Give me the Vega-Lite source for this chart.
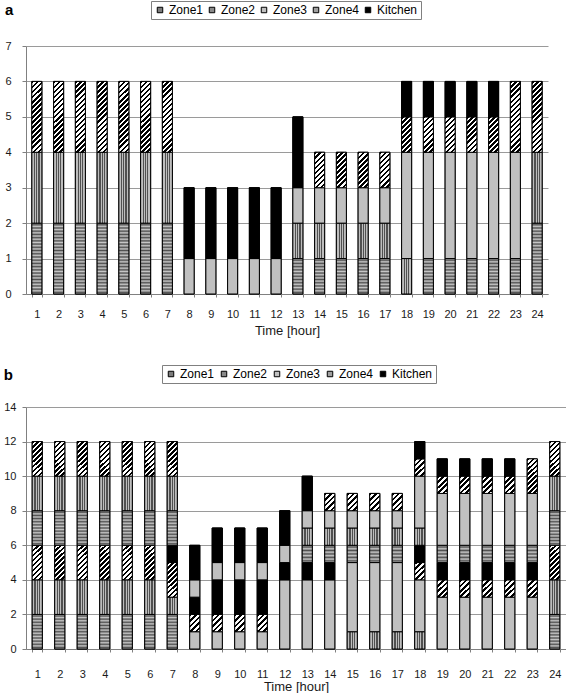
{
  "$schema": "https://vega.github.io/schema/vega-lite/v6.json",
  "background": "white",
  "padding": {"left": 3, "top": 0, "right": 0, "bottom": 0},
  "datasets": {
    "a": [
      {"hour":1,"seg":1,"zone":"Zone1","value":2},{"hour":1,"seg":2,"zone":"Zone2","value":2},{"hour":1,"seg":3,"zone":"Zone4","value":2},
      {"hour":2,"seg":1,"zone":"Zone1","value":2},{"hour":2,"seg":2,"zone":"Zone2","value":2},{"hour":2,"seg":3,"zone":"Zone4","value":2},
      {"hour":3,"seg":1,"zone":"Zone1","value":2},{"hour":3,"seg":2,"zone":"Zone2","value":2},{"hour":3,"seg":3,"zone":"Zone4","value":2},
      {"hour":4,"seg":1,"zone":"Zone1","value":2},{"hour":4,"seg":2,"zone":"Zone2","value":2},{"hour":4,"seg":3,"zone":"Zone4","value":2},
      {"hour":5,"seg":1,"zone":"Zone1","value":2},{"hour":5,"seg":2,"zone":"Zone2","value":2},{"hour":5,"seg":3,"zone":"Zone4","value":2},
      {"hour":6,"seg":1,"zone":"Zone1","value":2},{"hour":6,"seg":2,"zone":"Zone2","value":2},{"hour":6,"seg":3,"zone":"Zone4","value":2},
      {"hour":7,"seg":1,"zone":"Zone1","value":2},{"hour":7,"seg":2,"zone":"Zone2","value":2},{"hour":7,"seg":3,"zone":"Zone4","value":2},
      {"hour":8,"seg":1,"zone":"Zone3","value":1},{"hour":8,"seg":2,"zone":"Kitchen","value":2},
      {"hour":9,"seg":1,"zone":"Zone3","value":1},{"hour":9,"seg":2,"zone":"Kitchen","value":2},
      {"hour":10,"seg":1,"zone":"Zone3","value":1},{"hour":10,"seg":2,"zone":"Kitchen","value":2},
      {"hour":11,"seg":1,"zone":"Zone3","value":1},{"hour":11,"seg":2,"zone":"Kitchen","value":2},
      {"hour":12,"seg":1,"zone":"Zone3","value":1},{"hour":12,"seg":2,"zone":"Kitchen","value":2},
      {"hour":13,"seg":1,"zone":"Zone1","value":1},{"hour":13,"seg":2,"zone":"Zone2","value":1},{"hour":13,"seg":3,"zone":"Zone3","value":1},{"hour":13,"seg":4,"zone":"Kitchen","value":2},
      {"hour":14,"seg":1,"zone":"Zone1","value":1},{"hour":14,"seg":2,"zone":"Zone2","value":1},{"hour":14,"seg":3,"zone":"Zone3","value":1},{"hour":14,"seg":4,"zone":"Zone4","value":1},
      {"hour":15,"seg":1,"zone":"Zone1","value":1},{"hour":15,"seg":2,"zone":"Zone2","value":1},{"hour":15,"seg":3,"zone":"Zone3","value":1},{"hour":15,"seg":4,"zone":"Zone4","value":1},
      {"hour":16,"seg":1,"zone":"Zone1","value":1},{"hour":16,"seg":2,"zone":"Zone2","value":1},{"hour":16,"seg":3,"zone":"Zone3","value":1},{"hour":16,"seg":4,"zone":"Zone4","value":1},
      {"hour":17,"seg":1,"zone":"Zone1","value":1},{"hour":17,"seg":2,"zone":"Zone2","value":1},{"hour":17,"seg":3,"zone":"Zone3","value":1},{"hour":17,"seg":4,"zone":"Zone4","value":1},
      {"hour":18,"seg":1,"zone":"Zone2","value":1},{"hour":18,"seg":2,"zone":"Zone3","value":3},{"hour":18,"seg":3,"zone":"Zone4","value":1},{"hour":18,"seg":4,"zone":"Kitchen","value":1},
      {"hour":19,"seg":1,"zone":"Zone1","value":1},{"hour":19,"seg":2,"zone":"Zone3","value":3},{"hour":19,"seg":3,"zone":"Zone4","value":1},{"hour":19,"seg":4,"zone":"Kitchen","value":1},
      {"hour":20,"seg":1,"zone":"Zone1","value":1},{"hour":20,"seg":2,"zone":"Zone3","value":3},{"hour":20,"seg":3,"zone":"Zone4","value":1},{"hour":20,"seg":4,"zone":"Kitchen","value":1},
      {"hour":21,"seg":1,"zone":"Zone1","value":1},{"hour":21,"seg":2,"zone":"Zone3","value":3},{"hour":21,"seg":3,"zone":"Zone4","value":1},{"hour":21,"seg":4,"zone":"Kitchen","value":1},
      {"hour":22,"seg":1,"zone":"Zone1","value":1},{"hour":22,"seg":2,"zone":"Zone3","value":3},{"hour":22,"seg":3,"zone":"Zone4","value":1},{"hour":22,"seg":4,"zone":"Kitchen","value":1},
      {"hour":23,"seg":1,"zone":"Zone1","value":1},{"hour":23,"seg":2,"zone":"Zone3","value":3},{"hour":23,"seg":3,"zone":"Zone4","value":2},
      {"hour":24,"seg":1,"zone":"Zone1","value":2},{"hour":24,"seg":2,"zone":"Zone2","value":2},{"hour":24,"seg":3,"zone":"Zone4","value":2}
    ],
    "b": [
      {"hour":1,"seg":1,"zone":"Zone1","value":2},{"hour":1,"seg":2,"zone":"Zone2","value":2},{"hour":1,"seg":3,"zone":"Zone4","value":2},{"hour":1,"seg":4,"zone":"Zone1","value":2},{"hour":1,"seg":5,"zone":"Zone2","value":2},{"hour":1,"seg":6,"zone":"Zone4","value":2},
      {"hour":2,"seg":1,"zone":"Zone1","value":2},{"hour":2,"seg":2,"zone":"Zone2","value":2},{"hour":2,"seg":3,"zone":"Zone4","value":2},{"hour":2,"seg":4,"zone":"Zone1","value":2},{"hour":2,"seg":5,"zone":"Zone2","value":2},{"hour":2,"seg":6,"zone":"Zone4","value":2},
      {"hour":3,"seg":1,"zone":"Zone1","value":2},{"hour":3,"seg":2,"zone":"Zone2","value":2},{"hour":3,"seg":3,"zone":"Zone4","value":2},{"hour":3,"seg":4,"zone":"Zone1","value":2},{"hour":3,"seg":5,"zone":"Zone2","value":2},{"hour":3,"seg":6,"zone":"Zone4","value":2},
      {"hour":4,"seg":1,"zone":"Zone1","value":2},{"hour":4,"seg":2,"zone":"Zone2","value":2},{"hour":4,"seg":3,"zone":"Zone4","value":2},{"hour":4,"seg":4,"zone":"Zone1","value":2},{"hour":4,"seg":5,"zone":"Zone2","value":2},{"hour":4,"seg":6,"zone":"Zone4","value":2},
      {"hour":5,"seg":1,"zone":"Zone1","value":2},{"hour":5,"seg":2,"zone":"Zone2","value":2},{"hour":5,"seg":3,"zone":"Zone4","value":2},{"hour":5,"seg":4,"zone":"Zone1","value":2},{"hour":5,"seg":5,"zone":"Zone2","value":2},{"hour":5,"seg":6,"zone":"Zone4","value":2},
      {"hour":6,"seg":1,"zone":"Zone1","value":2},{"hour":6,"seg":2,"zone":"Zone2","value":2},{"hour":6,"seg":3,"zone":"Zone4","value":2},{"hour":6,"seg":4,"zone":"Zone1","value":2},{"hour":6,"seg":5,"zone":"Zone2","value":2},{"hour":6,"seg":6,"zone":"Zone4","value":2},
      {"hour":7,"seg":1,"zone":"Zone1","value":2},{"hour":7,"seg":2,"zone":"Zone2","value":1},{"hour":7,"seg":3,"zone":"Zone4","value":2},{"hour":7,"seg":4,"zone":"Kitchen","value":1},{"hour":7,"seg":5,"zone":"Zone1","value":2},{"hour":7,"seg":6,"zone":"Zone2","value":2},{"hour":7,"seg":7,"zone":"Zone4","value":2},
      {"hour":8,"seg":1,"zone":"Zone3","value":1},{"hour":8,"seg":2,"zone":"Zone4","value":1},{"hour":8,"seg":3,"zone":"Kitchen","value":1},{"hour":8,"seg":4,"zone":"Zone3","value":1},{"hour":8,"seg":5,"zone":"Kitchen","value":2},
      {"hour":9,"seg":1,"zone":"Zone3","value":1},{"hour":9,"seg":2,"zone":"Zone4","value":1},{"hour":9,"seg":3,"zone":"Kitchen","value":2},{"hour":9,"seg":4,"zone":"Zone3","value":1},{"hour":9,"seg":5,"zone":"Kitchen","value":2},
      {"hour":10,"seg":1,"zone":"Zone3","value":1},{"hour":10,"seg":2,"zone":"Zone4","value":1},{"hour":10,"seg":3,"zone":"Kitchen","value":2},{"hour":10,"seg":4,"zone":"Zone3","value":1},{"hour":10,"seg":5,"zone":"Kitchen","value":2},
      {"hour":11,"seg":1,"zone":"Zone3","value":1},{"hour":11,"seg":2,"zone":"Zone4","value":1},{"hour":11,"seg":3,"zone":"Kitchen","value":2},{"hour":11,"seg":4,"zone":"Zone3","value":1},{"hour":11,"seg":5,"zone":"Kitchen","value":2},
      {"hour":12,"seg":1,"zone":"Zone3","value":4},{"hour":12,"seg":2,"zone":"Kitchen","value":1},{"hour":12,"seg":3,"zone":"Zone3","value":1},{"hour":12,"seg":4,"zone":"Kitchen","value":2},
      {"hour":13,"seg":1,"zone":"Zone3","value":4},{"hour":13,"seg":2,"zone":"Kitchen","value":1},{"hour":13,"seg":3,"zone":"Zone1","value":1},{"hour":13,"seg":4,"zone":"Zone2","value":1},{"hour":13,"seg":5,"zone":"Zone3","value":1},{"hour":13,"seg":6,"zone":"Kitchen","value":2},
      {"hour":14,"seg":1,"zone":"Zone3","value":4},{"hour":14,"seg":2,"zone":"Kitchen","value":1},{"hour":14,"seg":3,"zone":"Zone1","value":1},{"hour":14,"seg":4,"zone":"Zone2","value":1},{"hour":14,"seg":5,"zone":"Zone3","value":1},{"hour":14,"seg":6,"zone":"Zone4","value":1},
      {"hour":15,"seg":1,"zone":"Zone2","value":1},{"hour":15,"seg":2,"zone":"Zone3","value":4},{"hour":15,"seg":3,"zone":"Zone1","value":1},{"hour":15,"seg":4,"zone":"Zone2","value":1},{"hour":15,"seg":5,"zone":"Zone3","value":1},{"hour":15,"seg":6,"zone":"Zone4","value":1},
      {"hour":16,"seg":1,"zone":"Zone2","value":1},{"hour":16,"seg":2,"zone":"Zone3","value":4},{"hour":16,"seg":3,"zone":"Zone1","value":1},{"hour":16,"seg":4,"zone":"Zone2","value":1},{"hour":16,"seg":5,"zone":"Zone3","value":1},{"hour":16,"seg":6,"zone":"Zone4","value":1},
      {"hour":17,"seg":1,"zone":"Zone2","value":1},{"hour":17,"seg":2,"zone":"Zone3","value":4},{"hour":17,"seg":3,"zone":"Zone1","value":1},{"hour":17,"seg":4,"zone":"Zone2","value":1},{"hour":17,"seg":5,"zone":"Zone3","value":1},{"hour":17,"seg":6,"zone":"Zone4","value":1},
      {"hour":18,"seg":1,"zone":"Zone2","value":1},{"hour":18,"seg":2,"zone":"Zone3","value":3},{"hour":18,"seg":3,"zone":"Zone4","value":1},{"hour":18,"seg":4,"zone":"Kitchen","value":1},{"hour":18,"seg":5,"zone":"Zone2","value":1},{"hour":18,"seg":6,"zone":"Zone3","value":3},{"hour":18,"seg":7,"zone":"Zone4","value":1},{"hour":18,"seg":8,"zone":"Kitchen","value":1},
      {"hour":19,"seg":1,"zone":"Zone3","value":3},{"hour":19,"seg":2,"zone":"Zone4","value":1},{"hour":19,"seg":3,"zone":"Kitchen","value":1},{"hour":19,"seg":4,"zone":"Zone1","value":1},{"hour":19,"seg":5,"zone":"Zone3","value":3},{"hour":19,"seg":6,"zone":"Zone4","value":1},{"hour":19,"seg":7,"zone":"Kitchen","value":1},
      {"hour":20,"seg":1,"zone":"Zone3","value":3},{"hour":20,"seg":2,"zone":"Zone4","value":1},{"hour":20,"seg":3,"zone":"Kitchen","value":1},{"hour":20,"seg":4,"zone":"Zone1","value":1},{"hour":20,"seg":5,"zone":"Zone3","value":3},{"hour":20,"seg":6,"zone":"Zone4","value":1},{"hour":20,"seg":7,"zone":"Kitchen","value":1},
      {"hour":21,"seg":1,"zone":"Zone3","value":3},{"hour":21,"seg":2,"zone":"Zone4","value":1},{"hour":21,"seg":3,"zone":"Kitchen","value":1},{"hour":21,"seg":4,"zone":"Zone1","value":1},{"hour":21,"seg":5,"zone":"Zone3","value":3},{"hour":21,"seg":6,"zone":"Zone4","value":1},{"hour":21,"seg":7,"zone":"Kitchen","value":1},
      {"hour":22,"seg":1,"zone":"Zone3","value":3},{"hour":22,"seg":2,"zone":"Zone4","value":1},{"hour":22,"seg":3,"zone":"Kitchen","value":1},{"hour":22,"seg":4,"zone":"Zone1","value":1},{"hour":22,"seg":5,"zone":"Zone3","value":3},{"hour":22,"seg":6,"zone":"Zone4","value":1},{"hour":22,"seg":7,"zone":"Kitchen","value":1},
      {"hour":23,"seg":1,"zone":"Zone3","value":3},{"hour":23,"seg":2,"zone":"Zone4","value":1},{"hour":23,"seg":3,"zone":"Kitchen","value":1},{"hour":23,"seg":4,"zone":"Zone1","value":1},{"hour":23,"seg":5,"zone":"Zone3","value":3},{"hour":23,"seg":6,"zone":"Zone4","value":2},
      {"hour":24,"seg":1,"zone":"Zone1","value":2},{"hour":24,"seg":2,"zone":"Zone2","value":2},{"hour":24,"seg":3,"zone":"Zone4","value":2},{"hour":24,"seg":4,"zone":"Zone1","value":2},{"hour":24,"seg":5,"zone":"Zone2","value":2},{"hour":24,"seg":6,"zone":"Zone4","value":2}
    ]
  },
  "concat": [
    {
      "width": 522,
      "height": 248,
      "title": {"text": "a", "anchor": "start", "frame": "bounds", "fontSize": 15, "fontWeight": "bold", "color": "#000", "dy": 21},
      "data": {"name": "a"},
      "encoding": {
        "x": {"field": "hour", "type": "ordinal", "title": "Time [hour]",
          "scale": {"paddingInner": 0.54, "paddingOuter": 0.27},
          "axis": {"labelPadding": 11, "titlePadding": 5}},
        "y": {"field": "value", "type": "quantitative", "stack": "zero", "title": null,
          "scale": {"domain": [0, 7], "nice": false},
          "axis": {"values": [0, 1, 2, 3, 4, 5, 6, 7], "labelPadding": 11}},
        "order": {"field": "seg", "type": "quantitative"},
        "detail": {"field": "seg", "type": "nominal"}
      },
      "layer": [
        {
          "mark": {"type": "bar", "stroke": "#000", "strokeWidth": 1},
          "encoding": {
            "color": {"field": "zone", "type": "nominal",
              "scale": {"domain": ["Zone1", "Zone2", "Zone3", "Zone4", "Kitchen"], "range": ["#7c7c7c", "#8a8a8a", "#c0c0c0", "#a0a0a0", "#000000"]},
              "legend": {"legendX": 125, "legendY": -45, "columnPadding": 2}}
          }
        },
        {
          "mark": {"type": "bar", "stroke": "#000", "strokeWidth": 1},
          "encoding": {
            "fill": {
              "condition": [
                {"test": "datum.zone === 'Zone1' && datum.value === 2", "value": {"gradient": "linear", "x1": 0, "y1": 0, "x2": 0, "y2": 1, "stops": [
                  {"offset":0,"color":"#c8c8c8"},{"offset":0.0227,"color":"#505050"},{"offset":0.0455,"color":"#c8c8c8"},{"offset":0.0682,"color":"#505050"},{"offset":0.0909,"color":"#c8c8c8"},{"offset":0.1136,"color":"#505050"},{"offset":0.1364,"color":"#c8c8c8"},{"offset":0.1591,"color":"#505050"},{"offset":0.1818,"color":"#c8c8c8"},{"offset":0.2045,"color":"#505050"},{"offset":0.2273,"color":"#c8c8c8"},{"offset":0.25,"color":"#505050"},{"offset":0.2727,"color":"#c8c8c8"},{"offset":0.2955,"color":"#505050"},{"offset":0.3182,"color":"#c8c8c8"},{"offset":0.3409,"color":"#505050"},{"offset":0.3636,"color":"#c8c8c8"},{"offset":0.3864,"color":"#505050"},{"offset":0.4091,"color":"#c8c8c8"},{"offset":0.4318,"color":"#505050"},{"offset":0.4545,"color":"#c8c8c8"},{"offset":0.4773,"color":"#505050"},{"offset":0.5,"color":"#c8c8c8"},{"offset":0.5227,"color":"#505050"},{"offset":0.5455,"color":"#c8c8c8"},{"offset":0.5682,"color":"#505050"},{"offset":0.5909,"color":"#c8c8c8"},{"offset":0.6136,"color":"#505050"},{"offset":0.6364,"color":"#c8c8c8"},{"offset":0.6591,"color":"#505050"},{"offset":0.6818,"color":"#c8c8c8"},{"offset":0.7045,"color":"#505050"},{"offset":0.7273,"color":"#c8c8c8"},{"offset":0.75,"color":"#505050"},{"offset":0.7727,"color":"#c8c8c8"},{"offset":0.7955,"color":"#505050"},{"offset":0.8182,"color":"#c8c8c8"},{"offset":0.8409,"color":"#505050"},{"offset":0.8636,"color":"#c8c8c8"},{"offset":0.8864,"color":"#505050"},{"offset":0.9091,"color":"#c8c8c8"},{"offset":0.9318,"color":"#505050"},{"offset":0.9545,"color":"#c8c8c8"},{"offset":0.9773,"color":"#505050"},{"offset":1,"color":"#c8c8c8"}]}},
                {"test": "datum.zone === 'Zone1'", "value": {"gradient": "linear", "x1": 0, "y1": 0, "x2": 0, "y2": 1, "stops": [
                  {"offset":0,"color":"#c8c8c8"},{"offset":0.0455,"color":"#505050"},{"offset":0.0909,"color":"#c8c8c8"},{"offset":0.1364,"color":"#505050"},{"offset":0.1818,"color":"#c8c8c8"},{"offset":0.2273,"color":"#505050"},{"offset":0.2727,"color":"#c8c8c8"},{"offset":0.3182,"color":"#505050"},{"offset":0.3636,"color":"#c8c8c8"},{"offset":0.4091,"color":"#505050"},{"offset":0.4545,"color":"#c8c8c8"},{"offset":0.5,"color":"#505050"},{"offset":0.5455,"color":"#c8c8c8"},{"offset":0.5909,"color":"#505050"},{"offset":0.6364,"color":"#c8c8c8"},{"offset":0.6818,"color":"#505050"},{"offset":0.7273,"color":"#c8c8c8"},{"offset":0.7727,"color":"#505050"},{"offset":0.8182,"color":"#c8c8c8"},{"offset":0.8636,"color":"#505050"},{"offset":0.9091,"color":"#c8c8c8"},{"offset":0.9545,"color":"#505050"},{"offset":1,"color":"#c8c8c8"}]}},
                {"test": "datum.zone === 'Zone2'", "value": {"gradient": "linear", "x1": 0, "y1": 0, "x2": 1, "y2": 0, "stops": [
                  {"offset":0,"color":"#bdbdbd"},{"offset":0.22,"color":"#bdbdbd"},{"offset":0.22,"color":"#505050"},{"offset":0.34,"color":"#505050"},{"offset":0.34,"color":"#bdbdbd"},{"offset":0.44,"color":"#bdbdbd"},{"offset":0.44,"color":"#505050"},{"offset":0.56,"color":"#505050"},{"offset":0.56,"color":"#bdbdbd"},{"offset":0.66,"color":"#bdbdbd"},{"offset":0.66,"color":"#505050"},{"offset":0.78,"color":"#505050"},{"offset":0.78,"color":"#bdbdbd"},{"offset":1,"color":"#bdbdbd"}]}},
                {"test": "datum.zone === 'Zone4' && datum.value === 2", "value": {"gradient": "linear", "x1": 0, "y1": 0, "x2": 0.1575, "y2": 1.1186, "stops": [
                  {"offset":0,"color":"#000"},{"offset":0.03125,"color":"#000"},{"offset":0.03125,"color":"#fff"},{"offset":0.0625,"color":"#fff"},{"offset":0.0625,"color":"#000"},{"offset":0.09375,"color":"#000"},{"offset":0.09375,"color":"#fff"},{"offset":0.125,"color":"#fff"},{"offset":0.125,"color":"#000"},{"offset":0.15625,"color":"#000"},{"offset":0.15625,"color":"#fff"},{"offset":0.1875,"color":"#fff"},{"offset":0.1875,"color":"#000"},{"offset":0.21875,"color":"#000"},{"offset":0.21875,"color":"#fff"},{"offset":0.25,"color":"#fff"},{"offset":0.25,"color":"#000"},{"offset":0.28125,"color":"#000"},{"offset":0.28125,"color":"#fff"},{"offset":0.3125,"color":"#fff"},{"offset":0.3125,"color":"#000"},{"offset":0.34375,"color":"#000"},{"offset":0.34375,"color":"#fff"},{"offset":0.375,"color":"#fff"},{"offset":0.375,"color":"#000"},{"offset":0.40625,"color":"#000"},{"offset":0.40625,"color":"#fff"},{"offset":0.4375,"color":"#fff"},{"offset":0.4375,"color":"#000"},{"offset":0.46875,"color":"#000"},{"offset":0.46875,"color":"#fff"},{"offset":0.5,"color":"#fff"},{"offset":0.5,"color":"#000"},{"offset":0.53125,"color":"#000"},{"offset":0.53125,"color":"#fff"},{"offset":0.5625,"color":"#fff"},{"offset":0.5625,"color":"#000"},{"offset":0.59375,"color":"#000"},{"offset":0.59375,"color":"#fff"},{"offset":0.625,"color":"#fff"},{"offset":0.625,"color":"#000"},{"offset":0.65625,"color":"#000"},{"offset":0.65625,"color":"#fff"},{"offset":0.6875,"color":"#fff"},{"offset":0.6875,"color":"#000"},{"offset":0.71875,"color":"#000"},{"offset":0.71875,"color":"#fff"},{"offset":0.75,"color":"#fff"},{"offset":0.75,"color":"#000"},{"offset":0.78125,"color":"#000"},{"offset":0.78125,"color":"#fff"},{"offset":0.8125,"color":"#fff"},{"offset":0.8125,"color":"#000"},{"offset":0.84375,"color":"#000"},{"offset":0.84375,"color":"#fff"},{"offset":0.875,"color":"#fff"},{"offset":0.875,"color":"#000"},{"offset":0.90625,"color":"#000"},{"offset":0.90625,"color":"#fff"},{"offset":0.9375,"color":"#fff"},{"offset":0.9375,"color":"#000"},{"offset":0.96875,"color":"#000"},{"offset":0.96875,"color":"#fff"},{"offset":1,"color":"#fff"}]}},
                {"test": "datum.zone === 'Zone4'", "value": {"gradient": "linear", "x1": 0, "y1": 0, "x2": 0.3355, "y2": 1.1877, "stops": [
                  {"offset":0,"color":"#000"},{"offset":0.0556,"color":"#000"},{"offset":0.0556,"color":"#fff"},{"offset":0.1111,"color":"#fff"},{"offset":0.1111,"color":"#000"},{"offset":0.1667,"color":"#000"},{"offset":0.1667,"color":"#fff"},{"offset":0.2222,"color":"#fff"},{"offset":0.2222,"color":"#000"},{"offset":0.2778,"color":"#000"},{"offset":0.2778,"color":"#fff"},{"offset":0.3333,"color":"#fff"},{"offset":0.3333,"color":"#000"},{"offset":0.3889,"color":"#000"},{"offset":0.3889,"color":"#fff"},{"offset":0.4444,"color":"#fff"},{"offset":0.4444,"color":"#000"},{"offset":0.5,"color":"#000"},{"offset":0.5,"color":"#fff"},{"offset":0.5556,"color":"#fff"},{"offset":0.5556,"color":"#000"},{"offset":0.6111,"color":"#000"},{"offset":0.6111,"color":"#fff"},{"offset":0.6667,"color":"#fff"},{"offset":0.6667,"color":"#000"},{"offset":0.7222,"color":"#000"},{"offset":0.7222,"color":"#fff"},{"offset":0.7778,"color":"#fff"},{"offset":0.7778,"color":"#000"},{"offset":0.8333,"color":"#000"},{"offset":0.8333,"color":"#fff"},{"offset":0.8889,"color":"#fff"},{"offset":0.8889,"color":"#000"},{"offset":0.9444,"color":"#000"},{"offset":0.9444,"color":"#fff"},{"offset":1,"color":"#fff"}]}},
                {"test": "datum.zone === 'Kitchen'", "value": "#000000"}
              ],
              "value": "#c0c0c0"
            }
          }
        }
      ]
    },
    {
      "width": 540,
      "height": 242,
      "title": {"text": "b", "anchor": "start", "frame": "bounds", "fontSize": 15, "fontWeight": "bold", "color": "#000", "dy": 22},
      "data": {"name": "b"},
      "encoding": {
        "x": {"field": "hour", "type": "ordinal", "title": "Time [hour]",
          "scale": {"paddingInner": 0.55, "paddingOuter": 0.275},
          "axis": {"labelPadding": 16, "titlePadding": 1}},
        "y": {"field": "value", "type": "quantitative", "stack": "zero", "title": null,
          "scale": {"domain": [0, 14], "nice": false},
          "axis": {"values": [0, 2, 4, 6, 8, 10, 12, 14], "labelPadding": 6}},
        "order": {"field": "seg", "type": "quantitative"},
        "detail": {"field": "seg", "type": "nominal"}
      },
      "layer": [
        {
          "mark": {"type": "bar", "stroke": "#000", "strokeWidth": 1},
          "encoding": {
            "color": {"field": "zone", "type": "nominal",
              "scale": {"domain": ["Zone1", "Zone2", "Zone3", "Zone4", "Kitchen"], "range": ["#7c7c7c", "#8a8a8a", "#c0c0c0", "#a0a0a0", "#000000"]},
              "legend": {"legendX": 136, "legendY": -42, "columnPadding": 3}}
          }
        },
        {
          "mark": {"type": "bar", "stroke": "#000", "strokeWidth": 1},
          "encoding": {
            "fill": {
              "condition": [
                {"test": "datum.zone === 'Zone1' && datum.value === 2", "value": {"gradient": "linear", "x1": 0, "y1": 0, "x2": 0, "y2": 1, "stops": [
                  {"offset":0,"color":"#c8c8c8"},{"offset":0.0455,"color":"#505050"},{"offset":0.0909,"color":"#c8c8c8"},{"offset":0.1364,"color":"#505050"},{"offset":0.1818,"color":"#c8c8c8"},{"offset":0.2273,"color":"#505050"},{"offset":0.2727,"color":"#c8c8c8"},{"offset":0.3182,"color":"#505050"},{"offset":0.3636,"color":"#c8c8c8"},{"offset":0.4091,"color":"#505050"},{"offset":0.4545,"color":"#c8c8c8"},{"offset":0.5,"color":"#505050"},{"offset":0.5455,"color":"#c8c8c8"},{"offset":0.5909,"color":"#505050"},{"offset":0.6364,"color":"#c8c8c8"},{"offset":0.6818,"color":"#505050"},{"offset":0.7273,"color":"#c8c8c8"},{"offset":0.7727,"color":"#505050"},{"offset":0.8182,"color":"#c8c8c8"},{"offset":0.8636,"color":"#505050"},{"offset":0.9091,"color":"#c8c8c8"},{"offset":0.9545,"color":"#505050"},{"offset":1,"color":"#c8c8c8"}]}},
                {"test": "datum.zone === 'Zone1'", "value": {"gradient": "linear", "x1": 0, "y1": 0, "x2": 0, "y2": 1, "stops": [
                  {"offset":0,"color":"#c8c8c8"},{"offset":0.1,"color":"#505050"},{"offset":0.2,"color":"#c8c8c8"},{"offset":0.3,"color":"#505050"},{"offset":0.4,"color":"#c8c8c8"},{"offset":0.5,"color":"#505050"},{"offset":0.6,"color":"#c8c8c8"},{"offset":0.7,"color":"#505050"},{"offset":0.8,"color":"#c8c8c8"},{"offset":0.9,"color":"#505050"},{"offset":1,"color":"#c8c8c8"}]}},
                {"test": "datum.zone === 'Zone2'", "value": {"gradient": "linear", "x1": 0, "y1": 0, "x2": 1, "y2": 0, "stops": [
                  {"offset":0,"color":"#bdbdbd"},{"offset":0.22,"color":"#bdbdbd"},{"offset":0.22,"color":"#505050"},{"offset":0.34,"color":"#505050"},{"offset":0.34,"color":"#bdbdbd"},{"offset":0.44,"color":"#bdbdbd"},{"offset":0.44,"color":"#505050"},{"offset":0.56,"color":"#505050"},{"offset":0.56,"color":"#bdbdbd"},{"offset":0.66,"color":"#bdbdbd"},{"offset":0.66,"color":"#505050"},{"offset":0.78,"color":"#505050"},{"offset":0.78,"color":"#bdbdbd"},{"offset":1,"color":"#bdbdbd"}]}},
                {"test": "datum.zone === 'Zone4' && datum.value === 2", "value": {"gradient": "linear", "x1": 0, "y1": 0, "x2": 0.3355, "y2": 1.1877, "stops": [
                  {"offset":0,"color":"#000"},{"offset":0.0556,"color":"#000"},{"offset":0.0556,"color":"#fff"},{"offset":0.1111,"color":"#fff"},{"offset":0.1111,"color":"#000"},{"offset":0.1667,"color":"#000"},{"offset":0.1667,"color":"#fff"},{"offset":0.2222,"color":"#fff"},{"offset":0.2222,"color":"#000"},{"offset":0.2778,"color":"#000"},{"offset":0.2778,"color":"#fff"},{"offset":0.3333,"color":"#fff"},{"offset":0.3333,"color":"#000"},{"offset":0.3889,"color":"#000"},{"offset":0.3889,"color":"#fff"},{"offset":0.4444,"color":"#fff"},{"offset":0.4444,"color":"#000"},{"offset":0.5,"color":"#000"},{"offset":0.5,"color":"#fff"},{"offset":0.5556,"color":"#fff"},{"offset":0.5556,"color":"#000"},{"offset":0.6111,"color":"#000"},{"offset":0.6111,"color":"#fff"},{"offset":0.6667,"color":"#fff"},{"offset":0.6667,"color":"#000"},{"offset":0.7222,"color":"#000"},{"offset":0.7222,"color":"#fff"},{"offset":0.7778,"color":"#fff"},{"offset":0.7778,"color":"#000"},{"offset":0.8333,"color":"#000"},{"offset":0.8333,"color":"#fff"},{"offset":0.8889,"color":"#fff"},{"offset":0.8889,"color":"#000"},{"offset":0.9444,"color":"#000"},{"offset":0.9444,"color":"#fff"},{"offset":1,"color":"#fff"}]}},
                {"test": "datum.zone === 'Zone4'", "value": {"gradient": "linear", "x1": 0, "y1": 0, "x2": 0.6837, "y2": 1.1829, "stops": [
                  {"offset":0,"color":"#000"},{"offset":0.1,"color":"#000"},{"offset":0.1,"color":"#fff"},{"offset":0.2,"color":"#fff"},{"offset":0.2,"color":"#000"},{"offset":0.3,"color":"#000"},{"offset":0.3,"color":"#fff"},{"offset":0.4,"color":"#fff"},{"offset":0.4,"color":"#000"},{"offset":0.5,"color":"#000"},{"offset":0.5,"color":"#fff"},{"offset":0.6,"color":"#fff"},{"offset":0.6,"color":"#000"},{"offset":0.7,"color":"#000"},{"offset":0.7,"color":"#fff"},{"offset":0.8,"color":"#fff"},{"offset":0.8,"color":"#000"},{"offset":0.9,"color":"#000"},{"offset":0.9,"color":"#fff"},{"offset":1,"color":"#fff"}]}},
                {"test": "datum.zone === 'Kitchen'", "value": "#000000"}
              ],
              "value": "#c0c0c0"
            }
          }
        }
      ]
    }
  ],
  "columns": 1,
  "spacing": 27,
  "resolve": {"scale": {"color": "independent"}},
  "config": {
    "view": {"stroke": null},
    "font": "Liberation Sans",
    "axis": {"domainColor": "#808080", "tickColor": "#808080", "gridColor": "#9a9a9a", "labelFont": "Liberation Sans", "labelFontSize": 11, "labelColor": "#1a1a1a", "titleFont": "Liberation Sans", "titleFontSize": 13, "titleFontWeight": "normal", "titleColor": "#1a1a1a"},
    "axisX": {"grid": false, "tickSize": 3, "labelAngle": 0, "tickBand": "extent"},
    "axisY": {"grid": true, "tickSize": 4},
    "legend": {"orient": "none", "direction": "horizontal", "title": null, "symbolType": "square", "symbolSize": 30, "symbolStrokeColor": "#000", "symbolStrokeWidth": 1, "labelFont": "Liberation Sans", "labelFontSize": 12, "labelColor": "#000", "strokeColor": "#808080", "padding": 3, "labelOffset": 3},
    "title": {"font": "Liberation Sans"}
  }
}
